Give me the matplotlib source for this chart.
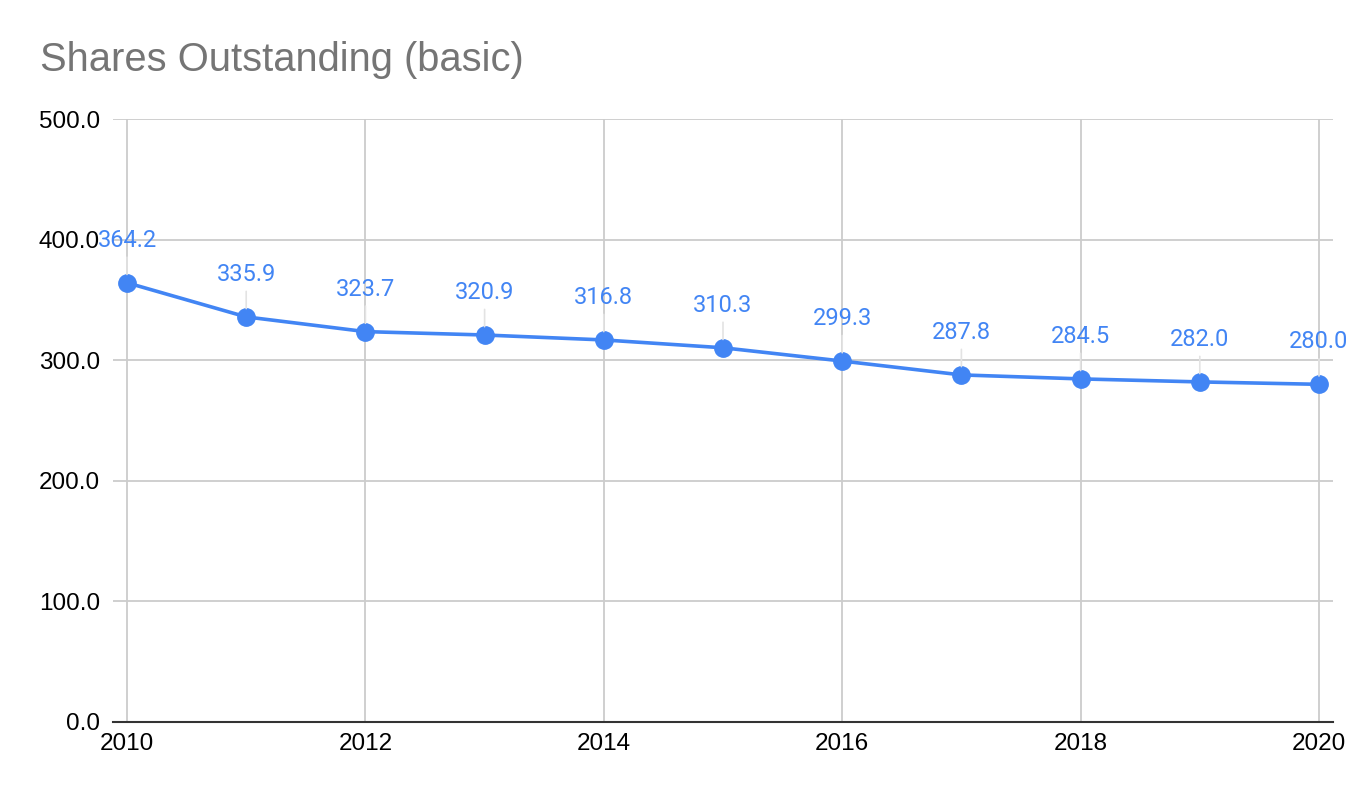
import matplotlib
matplotlib.use("Agg")
import matplotlib.pyplot as plt

# shares outstanding (basic), millions
years = [2010, 2011, 2012, 2013, 2014, 2015, 2016, 2017, 2018, 2019, 2020]
shares = [364.2, 335.9, 323.7, 320.9, 316.8, 310.3, 299.3, 287.8, 284.5, 282.0, 280.0]
x_ticks = [2010, 2012, 2014, 2016, 2018, 2020]
y_ticks = [0, 100, 200, 300, 400, 500]

blue = "#4285F4"

fig = plt.figure(figsize=(13.72, 7.98), dpi=100)
ax = fig.add_axes([113 / 1372, 76 / 798, 1220 / 1372, 603 / 798])

ax.plot(years, shares, color=blue, linewidth=2.6, marker="o", markersize=12.5,
        zorder=4, solid_capstyle="round")

# data labels with little leader lines
for x, y in zip(years, shares):
    ax.annotate(f"{y:.1f}", xy=(x, y), xytext=(0, 26), textcoords="offset points",
                ha="center", va="baseline", color=blue, fontsize=17, family="Roboto",
                zorder=5,
                arrowprops=dict(arrowstyle="-", color="#e3e3e3", lw=1.2,
                                shrinkA=2, shrinkB=6))

ax.set_xlim(2010 - 14 / 119.2, 2020 + 14 / 119.2)
ax.set_ylim(0, 500)
ax.set_xticks(x_ticks)
ax.set_yticks(y_ticks)
ax.set_yticklabels([f"{v:.1f}" for v in y_ticks])
ax.tick_params(axis="both", length=0, labelsize=17.5, labelcolor="#000000")
ax.tick_params(axis="y", pad=9.5)
ax.tick_params(axis="x", pad=8)
for lab in ax.get_xticklabels() + ax.get_yticklabels():
    lab.set_family("Liberation Sans")

ax.grid(True, color="#cccccc", linewidth=1.3)
ax.set_axisbelow(True)
for side in ["top", "right", "left"]:
    ax.spines[side].set_visible(False)
ax.spines["bottom"].set_color("#333333")
ax.spines["bottom"].set_linewidth(1.5)
ax.spines["bottom"].set_zorder(3)

fig.text(40 / 1372, 1 - 60 / 798, "Shares Outstanding (basic)", fontsize=28.7,
         color="#757575", family="Liberation Sans", va="center", ha="left")

fig.savefig("out.png", dpi=100, facecolor="white")
